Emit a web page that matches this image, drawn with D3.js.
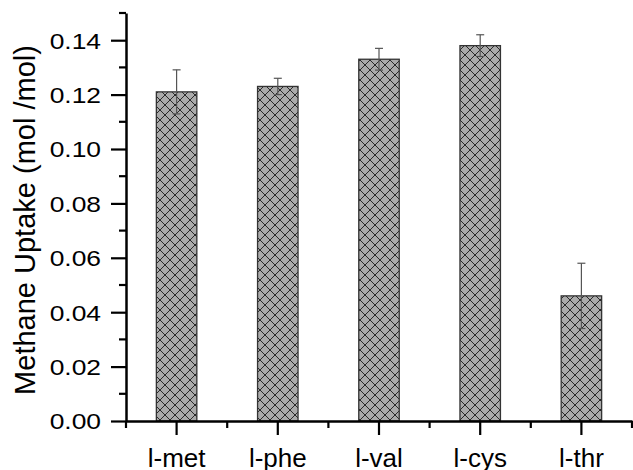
<!DOCTYPE html>
<html>
<head>
<meta charset="utf-8">
<script src="https://cdn.jsdelivr.net/npm/d3@7"></script>
<style>
  body { margin: 0; background: #fff; }
  svg { display: block; font-family: 'Liberation Sans', Arial, sans-serif; }
</style>
</head>
<body>
<svg id="chart" width="633" height="470"></svg>
<script>
const categories = ['l-met', 'l-phe', 'l-val', 'l-cys', 'l-thr']
const uptake = [0.121, 0.123, 0.133, 0.138, 0.046]
const uptakeErr = [0.0081, 0.003, 0.004, 0.004, 0.012]
const yMajorTicks = [0, 0.02, 0.04, 0.06, 0.08, 0.10, 0.12, 0.14]
const yMinorTicks = [0.01, 0.03, 0.05, 0.07, 0.09, 0.11, 0.13, 0.15]

const svg = d3.select('#chart')
const plotLeft = 126, plotRight = 632, plotTop = 13, plotBottom = 421

const x = d3.scaleBand(categories, [plotLeft, plotRight])
  .paddingInner(0.6)
  .paddingOuter(0.3)
const y = d3.scaleLinear([0, 0.15], [plotBottom, plotTop])

// crosshatch fill
const pat = svg.append('defs').append('pattern')
  .attr('id', 'hatch')
  .attr('patternUnits', 'userSpaceOnUse')
  .attr('width', 10).attr('height', 10)
pat.append('rect').attr('width', 10).attr('height', 10).attr('fill', '#ababab')
pat.append('path')
  .attr('d', 'M0,0L10,10M10,0L0,10M-1,9L1,11M9,-1L11,1M-1,1L1,-1M9,11L11,9')
  .attr('stroke', '#2a2a2a')
  .attr('stroke-width', 1)

// bars
svg.append('g').selectAll('rect')
  .data(categories)
  .join('rect')
  .attr('x', d => x(d))
  .attr('y', (d, i) => y(uptake[i]))
  .attr('width', x.bandwidth())
  .attr('height', (d, i) => y(0) - y(uptake[i]))
  .attr('fill', 'url(#hatch)')
  .attr('stroke', '#333')
  .attr('stroke-width', 1.3)

// error bars
const eb = svg.append('g')
  .attr('stroke', '#555')
  .attr('stroke-width', 1.2)
categories.forEach((c, i) => {
  const cx = x(c) + x.bandwidth() / 2
  const y1 = y(uptake[i] + uptakeErr[i]), y2 = y(uptake[i] - uptakeErr[i])
  eb.append('line').attr('x1', cx).attr('x2', cx).attr('y1', y1).attr('y2', y2)
  eb.append('line').attr('x1', cx - 4).attr('x2', cx + 4).attr('y1', y1).attr('y2', y1)
  eb.append('line').attr('x1', cx - 4).attr('x2', cx + 4).attr('y1', y2).attr('y2', y2)
})

// y axis
const yAxis = svg.append('g')
  .attr('transform', `translate(${plotLeft},0)`)
  .call(d3.axisLeft(y).tickValues(yMajorTicks).tickFormat(d3.format('.2f')).tickSize(15).tickSizeOuter(0))
yAxis.select('.domain').attr('stroke-width', 2.5)
yAxis.selectAll('.tick line').attr('stroke-width', 2.2)
yAxis.selectAll('.tick text')
  .attr('x', null)
  .attr('dy', '0.36em')
  .attr('transform', 'translate(-25,0) scale(1.2,1)')
  .attr('font-size', 22)
  .attr('fill', '#000')
yAxis.selectAll('.minor')
  .data(yMinorTicks)
  .join('line')
  .attr('class', 'minor')
  .attr('x1', -7).attr('x2', 0)
  .attr('y1', d => y(d)).attr('y2', d => y(d))
  .attr('stroke', '#000')
  .attr('stroke-width', 2.2)

// x axis
const xAxis = svg.append('g')
  .attr('transform', `translate(0,${plotBottom})`)
  .call(d3.axisBottom(x).tickSize(14).tickSizeOuter(0).tickPadding(14))
xAxis.select('.domain').attr('stroke-width', 2.5)
xAxis.selectAll('.tick line').attr('stroke-width', 2.2)
xAxis.selectAll('.tick text')
  .attr('font-size', 26)
  .attr('fill', '#000')
const xMinor = categories.map(c => x(c) - x.step() * x.paddingOuter()).concat([plotRight])
xAxis.selectAll('.minor')
  .data(xMinor)
  .join('line')
  .attr('class', 'minor')
  .attr('x1', d => d).attr('x2', d => d)
  .attr('y1', 0).attr('y2', 7)
  .attr('stroke', '#000')
  .attr('stroke-width', 2.2)

// y label
svg.append('text')
  .attr('transform', 'translate(35,220) rotate(-90)')
  .attr('text-anchor', 'middle')
  .attr('font-size', 29)
  .attr('fill', '#000')
  .text('Methane Uptake (mol /mol)')
</script>
</body>
</html>
